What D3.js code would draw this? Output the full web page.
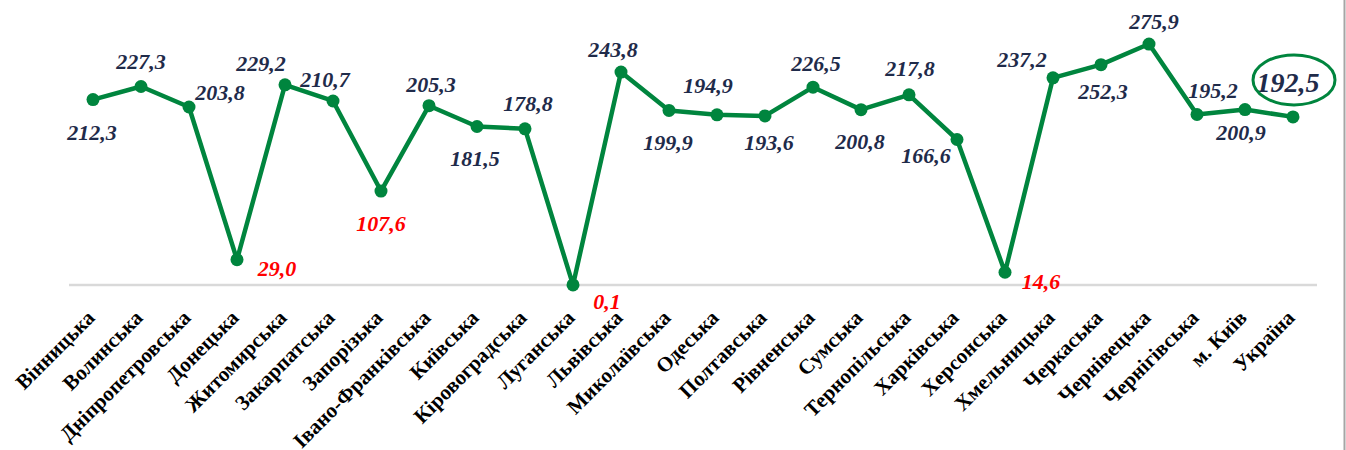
<!DOCTYPE html>
<html>
<head>
<meta charset="utf-8">
<script src="https://cdn.jsdelivr.net/npm/d3@7"></script>
<style>
  body { margin: 0; background: #fff; }
  #wrapper svg { display: block; }
  .value-label { font-family: "Liberation Serif", "Times New Roman", serif; font-weight: bold; font-style: italic; }
  .region-label { font-family: "Liberation Serif", "Times New Roman", serif; font-weight: bold; }
</style>
</head>
<body>
<div id="wrapper"></div>
<script>
const regions = [
  "Вінницька", "Волинська", "Дніпропетровська", "Донецька", "Житомирська",
  "Закарпатська", "Запорізька", "Івано-Франківська", "Київська", "Кіровоградська",
  "Луганська", "Львівська", "Миколаївська", "Одеська", "Полтавська",
  "Рівненська", "Сумська", "Тернопільська", "Харківська", "Херсонська",
  "Хмельницька", "Черкаська", "Чернівецька", "Чернігівська", "м. Київ", "Україна",
]
const values = [
  212.3, 227.3, 203.8, 29.0, 229.2,
  210.7, 107.6, 205.3, 181.5, 178.8,
  0.1, 243.8, 199.9, 194.9, 193.6,
  226.5, 200.8, 217.8, 166.6, 14.6,
  237.2, 252.3, 275.9, 195.2, 200.9, 192.5,
]
const lowRegions = ["Донецька", "Запорізька", "Луганська", "Херсонська"]
const highlighted = "Україна"

// label offsets from each point (layout only)
const labelOffsets = [
  [-1, 33], [0, -25], [31, -15], [40, 9], [-24, -21],
  [-8, -21], [0, 32], [2, -21], [-2, 32], [3, -25],
  [34, 17], [-8, -23], [-1, 32], [-9, -29], [4, 27],
  [3, -24], [-1, 32], [1, -26], [-31, 16], [36, 9],
  [-31, -18], [2, 27], [5, -23], [16, -24], [-4, 23], [-5, -34],
]

function drawChart() {

  const dataset = regions.map((name, i) => ({ name, value: values[i], offset: labelOffsets[i] }))
  const xAccessor = d => d.name
  const yAccessor = d => d.value

  let dimensions = {
    width: 1346,
    height: 450,
    plotLeft: 69,
    plotRight: 1317,
    baseline: 285,
  }

  const wrapper = d3.select("#wrapper")
    .append("svg")
      .attr("width", dimensions.width)
      .attr("height", dimensions.height)

  const xScale = d3.scalePoint()
    .domain(regions)
    .range([dimensions.plotLeft, dimensions.plotRight])
    .padding(0.5)

  const yScale = d3.scaleLinear()
    .domain([0, 300])
    .range([dimensions.baseline, dimensions.baseline - 262])

  // right frame edge
  wrapper.append("line")
      .attr("x1", 1344.5).attr("x2", 1344.5)
      .attr("y1", 0).attr("y2", dimensions.height)
      .attr("stroke", "#a6a6a6")
      .attr("stroke-width", 2)

  // category axis
  const xAxis = wrapper.append("g")
    .attr("transform", `translate(0, ${dimensions.baseline})`)
    .call(d3.axisBottom(xScale).tickSize(0).tickFormat(""))
  xAxis.select(".domain")
      .attr("d", `M${dimensions.plotLeft},0H${dimensions.plotRight}`)
      .attr("stroke", "#d9d9d9")
      .attr("stroke-width", 2.5)

  wrapper.selectAll(".region-label")
    .data(dataset)
    .enter().append("text")
      .attr("class", "region-label")
      .attr("transform", d => `translate(${xScale(xAccessor(d)) + 3}, 319) rotate(-45)`)
      .attr("text-anchor", "end")
      .attr("font-size", 21)
      .attr("fill", "#000")
      .text(xAccessor)

  // line + dots
  const lineGenerator = d3.line()
    .x(d => xScale(xAccessor(d)))
    .y(d => yScale(yAccessor(d)))

  wrapper.append("path")
      .attr("d", lineGenerator(dataset))
      .attr("fill", "none")
      .attr("stroke", "#00853e")
      .attr("stroke-width", 4.5)
      .attr("stroke-linejoin", "round")

  wrapper.selectAll(".dot")
    .data(dataset)
    .enter().append("circle")
      .attr("class", "dot")
      .attr("cx", d => xScale(xAccessor(d)))
      .attr("cy", d => yScale(yAccessor(d)))
      .attr("r", 6.5)
      .attr("fill", "#00853e")

  const formatValue = d => d3.format(".1f")(d).replace(".", ",")

  wrapper.selectAll(".value-label")
    .data(dataset)
    .enter().append("text")
      .attr("class", "value-label")
      .attr("x", d => xScale(xAccessor(d)) + d.offset[0])
      .attr("y", d => yScale(yAccessor(d)) + d.offset[1])
      .attr("text-anchor", "middle")
      .attr("dominant-baseline", "central")
      .attr("font-size", d => d.name == highlighted ? 28 : 22)
      .attr("fill", d => lowRegions.includes(d.name) ? "#ff0000" : "#1f2b4a")
      .text(d => formatValue(yAccessor(d)))

  // circle round the country total
  const total = dataset.find(d => d.name == highlighted)
  wrapper.append("ellipse")
      .attr("cx", xScale(total.name) + 1)
      .attr("cy", yScale(total.value) - 37)
      .attr("rx", 41)
      .attr("ry", 25)
      .attr("fill", "none")
      .attr("stroke", "#00853e")
      .attr("stroke-width", 3)
}
drawChart()
</script>
</body>
</html>
